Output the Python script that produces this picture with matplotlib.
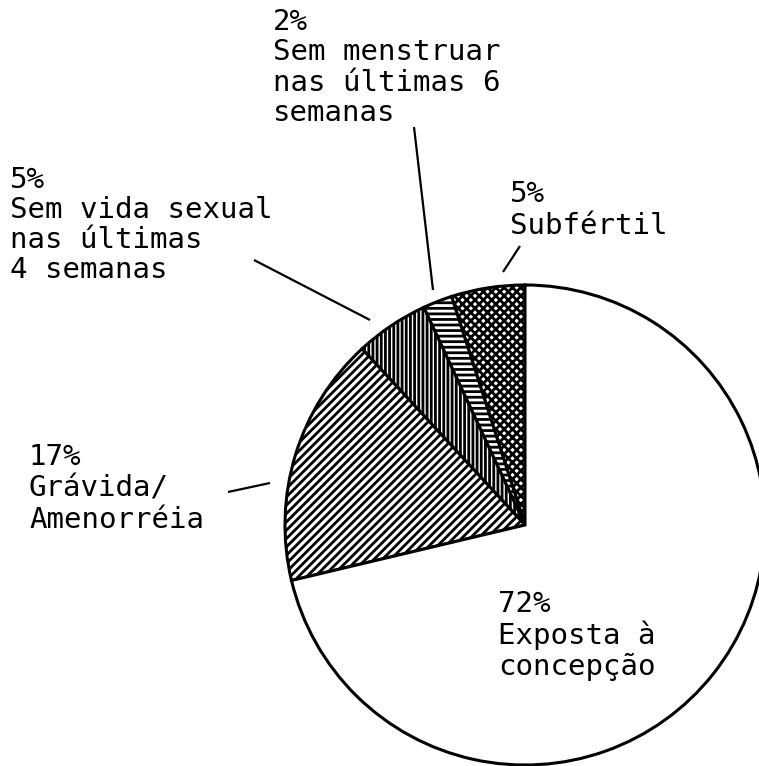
import matplotlib
matplotlib.use("Agg")
import matplotlib.pyplot as plt

# Data (counter-clockwise from 12 o'clock)
categories = ["Subfértil", "Sem menstruar nas últimas 6 semanas",
              "Sem vida sexual nas últimas 4 semanas",
              "Grávida/Amenorréia", "Exposta à concepção"]
values = [5, 2, 5, 17, 72]
label_texts = [
    "5%\nSubfértil",
    "2%\nSem menstruar\nnas últimas 6\nsemanas",
    "5%\nSem vida sexual\nnas últimas\n4 semanas",
    "17%\nGrávida/\nAmenorréia",
    "72%\nExposta à\nconcepção",
]
hatches = ["xxxx", "---", "||||", "////", ""]

W, H = 759, 766
plt.rcParams["hatch.linewidth"] = 2.0
plt.rcParams["hatch.color"] = "black"

fig = plt.figure(figsize=(W / 100, H / 100), dpi=100)
ax = fig.add_axes([0, 0, 1, 1])

cx, cy, R = 525, H - 525, 240
wedges, _ = ax.pie(values, startangle=90, counterclock=True,
                   center=(cx, cy), radius=R, frame=True,
                   colors=["white"] * len(values), hatch=hatches,
                   wedgeprops=dict(edgecolor="black", linewidth=2.2))

ax.set_xlim(0, W)
ax.set_ylim(0, H)
ax.set_aspect("equal")
ax.axis("off")

# label layout: (x, first baseline from top, line pitch)
label_pos = [(510, 202, 32), (273, 30, 30.3), (10, 188, 30),
             (29, 465, 31.5), (498, 612, 31.5)]
for txt, (x, b0, pitch) in zip(label_texts, label_pos):
    for i, line in enumerate(txt.split("\n")):
        ax.text(x, H - (b0 + i * pitch), line, ha="left", va="baseline",
                fontsize=21, family="DejaVu Sans Mono", color="black")

# leader lines (layout, pixel coords from top)
leaders = [((520, 246), (503, 272)), ((414, 127), (433, 290)),
           ((254, 260), (370, 320)), ((228, 492), (270, 483))]
for (x0, y0), (x1, y1) in leaders:
    ax.plot([x0, x1], [H - y0, H - y1], color="black", lw=1.6,
            solid_capstyle="butt")

fig.savefig("out.png", dpi=100)
